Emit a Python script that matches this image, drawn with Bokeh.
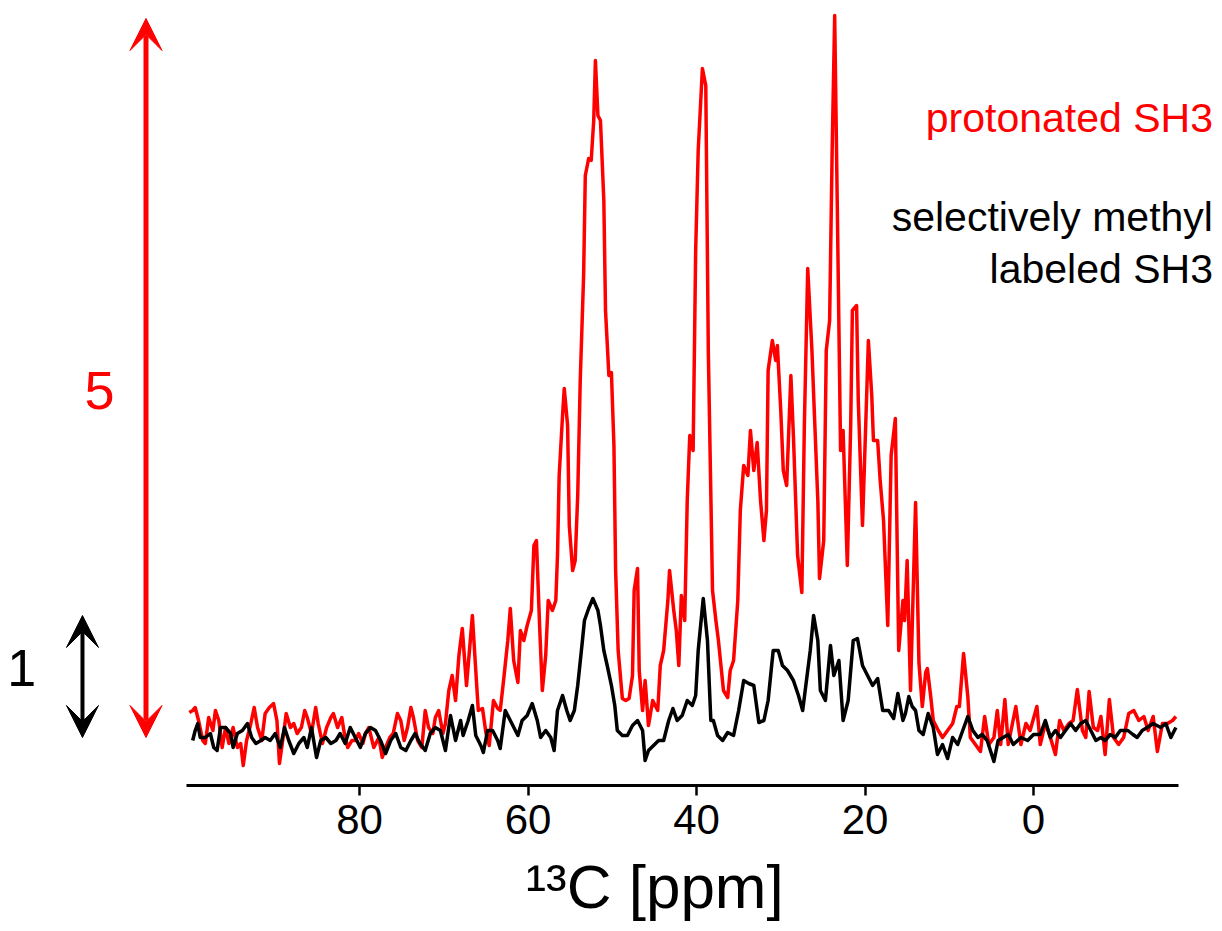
from bokeh.plotting import figure
from bokeh.models import Range1d, FixedTicker, Label, Arrow, VeeHead
from bokeh.embed import file_html
from bokeh.resources import INLINE

# 13C chemical shift (ppm) and relative intensity
red_ppm = [
    100.2, 99.8, 99.5, 99.1, 98.6, 98.3, 97.9, 97.4, 97.1, 96.7,
    96.3, 95.9, 95.5, 95.0, 94.5, 94.1, 93.8, 93.4, 92.9, 92.5,
    92.1, 91.6, 91.2, 90.7, 90.2, 89.8, 89.5, 89.0, 88.7, 88.2,
    87.8, 87.4, 86.9, 86.5, 86.2, 85.7, 85.2, 84.9, 84.4, 83.9,
    83.4, 83.1, 82.6, 82.1, 81.8, 81.4, 80.9, 80.5, 80.1, 79.6,
    79.3, 78.9, 78.3, 77.7, 77.3, 76.9, 76.4, 76.0, 75.5, 75.1,
    74.7, 74.3, 73.9, 73.6, 73.1, 72.6, 72.2, 71.8, 71.3, 71.0,
    70.6, 70.1, 69.8, 69.4, 69.0, 68.6, 68.2, 67.8, 67.3, 66.9,
    66.6, 66.2, 65.9, 65.4, 65.0, 64.6, 64.1, 63.6, 63.3, 62.9,
    62.4, 62.1, 61.7, 61.2, 60.9, 60.5, 60.1, 59.6, 59.3, 59.0,
    58.6, 58.3, 57.9, 57.6, 57.1, 56.7, 56.5, 56.3, 55.9, 55.7,
    55.3, 55.1, 54.7, 54.4, 54.1, 53.8, 53.4, 53.2, 52.8, 52.5,
    52.2, 52.0, 51.7, 51.4, 51.0, 50.8, 50.4, 50.1, 49.8, 49.6,
    49.3, 48.8, 48.4, 48.0, 47.6, 47.4, 47.0, 46.8, 46.4, 46.1,
    45.7, 45.2, 44.6, 44.3, 43.9, 43.4, 43.2, 42.7, 42.4, 42.1,
    41.8, 41.4, 41.1, 40.8, 40.4, 40.1, 39.8, 39.3, 38.9, 38.6,
    38.1, 37.7, 37.4, 36.8, 36.3, 36.0, 35.6, 35.1, 34.8, 34.4,
    33.9, 33.6, 33.2, 32.8, 32.4, 32.0, 31.7, 31.5, 31.0, 30.6,
    30.4, 30.0, 29.7, 29.3, 28.8, 28.5, 28.0, 27.5, 27.2, 26.8,
    26.3, 26.0, 25.6, 25.4, 24.9, 24.6, 24.2, 23.9, 23.6, 23.3,
    22.9, 22.6, 22.1, 21.7, 21.5, 21.0, 20.8, 20.3, 19.9, 19.6,
    19.2, 19.0, 18.5, 18.2, 17.8, 17.3, 16.9, 16.4, 16.0, 15.5,
    15.3, 15.0, 14.6, 14.0, 13.6, 13.2, 12.8, 12.6, 12.2, 11.9,
    11.3, 10.8, 10.2, 9.6, 9.1, 8.8, 8.3, 7.8, 7.5, 6.9,
    6.3, 5.8, 5.3, 4.7, 4.3, 3.9, 3.4, 3.0, 2.1, 1.5,
    0.9, 0.4, -0.4, -0.8, -1.4, -2.0, -2.6, -3.1, -3.6, -4.2,
    -4.7, -5.2, -5.8, -6.2, -6.6, -7.1, -7.6, -8.0, -8.5, -9.0,
    -9.5, -10.1, -10.7, -11.3, -11.9, -12.5, -13.1, -13.6, -14.2, -14.7,
    -15.3, -15.9, -16.5, -16.9,
]
red_int = [
    0.28, 0.30, 0.33, 0.20, 0.00, -0.03, 0.23, 0.10, 0.30, 0.20,
    -0.07, 0.13, -0.03, 0.13, -0.07, -0.03, -0.25, 0.00, 0.17, 0.33,
    0.13, 0.00, 0.27, 0.33, 0.37, 0.20, -0.23, 0.07, 0.27, 0.13,
    0.17, 0.07, 0.13, 0.30, 0.23, 0.07, 0.33, 0.17, -0.03, 0.13,
    0.23, 0.27, 0.13, 0.23, 0.07, -0.07, 0.00, 0.00, 0.07, -0.03,
    0.07, 0.13, -0.07, 0.03, -0.17, -0.07, 0.03, 0.07, 0.27, 0.20,
    0.00, 0.13, 0.33, 0.23, 0.00, -0.07, 0.30, 0.13, 0.07, 0.23,
    0.30, 0.07, 0.17, 0.50, 0.65, 0.40, 0.85, 1.12, 0.55, 0.95,
    1.25, 0.70, 0.30, 0.32, 0.08, -0.05, 0.40, 0.32, 0.30, 0.60,
    1.00, 1.32, 0.80, 0.58, 1.10, 1.00, 1.15, 1.30, 1.95, 2.00,
    1.10, 0.50, 0.85, 1.40, 1.30, 1.40, 1.85, 2.65, 3.25, 3.52,
    3.15, 2.15, 1.70, 1.80, 2.45, 3.60, 4.65, 5.65, 5.82, 5.80,
    6.20, 6.80, 6.25, 6.20, 5.40, 4.30, 3.65, 3.68, 2.95, 1.70,
    0.90, 0.42, 0.40, 0.42, 0.65, 1.50, 1.72, 0.70, 0.30, 0.60,
    0.15, 0.40, 0.30, 0.75, 0.90, 1.40, 1.70, 1.30, 1.10, 0.75,
    1.45, 1.20, 2.40, 3.05, 2.90, 4.90, 5.90, 6.72, 6.55, 3.90,
    1.50, 1.20, 1.00, 0.50, 0.43, 0.70, 0.80, 1.40, 2.30, 2.75,
    2.65, 3.10, 2.70, 2.98, 2.40, 2.00, 2.30, 3.70, 4.00, 3.80,
    3.95, 3.30, 2.70, 2.55, 3.65, 3.05, 1.85, 1.48, 3.15, 4.72,
    3.90, 3.25, 2.40, 1.62, 2.00, 3.90, 4.20, 5.90, 7.25, 5.40,
    2.90, 3.10, 1.75, 3.15, 4.30, 4.35, 3.40, 2.15, 3.20, 4.00,
    3.45, 3.00, 3.00, 2.60, 2.20, 1.15, 2.85, 3.22, 0.90, 1.40,
    1.20, 1.80, 0.50, 2.38, 0.78, 0.34, 0.68, 0.72, 0.44, 0.20,
    0.10, 0.03, 0.10, 0.17, 0.34, 0.34, 0.87, 0.44, 0.03, -0.04,
    -0.11, 0.24, -0.04, 0.03, 0.30, -0.04, 0.41, -0.04, 0.34, -0.04,
    0.17, 0.10, 0.34, -0.04, 0.17, 0.03, -0.14, 0.20, 0.10, 0.17,
    0.20, 0.51, 0.10, 0.03, 0.49, 0.13, 0.10, 0.24, -0.14, 0.41,
    0.03, -0.04, 0.03, 0.27, 0.30, 0.20, 0.24, 0.10, 0.24, -0.11,
    0.17, 0.17, 0.20, 0.24,
]

black_ppm = [
    99.8, 99.5, 99.2, 98.9, 98.3, 97.7, 97.3, 96.9, 96.5, 95.9,
    95.3, 95.0, 94.5, 93.9, 93.3, 92.8, 92.3, 91.7, 91.2, 90.6,
    90.0, 89.4, 88.9, 88.4, 87.8, 87.2, 86.6, 86.2, 85.7, 85.1,
    84.6, 84.0, 83.4, 82.8, 82.3, 81.7, 81.1, 80.5, 79.9, 79.3,
    78.7, 78.1, 77.5, 76.9, 76.3, 75.7, 75.1, 74.5, 73.9, 73.4,
    72.8, 72.2, 71.6, 71.0, 70.4, 69.8, 69.2, 68.6, 68.0, 67.7,
    67.1, 66.6, 66.2, 65.6, 65.3, 64.8, 64.2, 63.6, 63.3, 62.7,
    62.1, 61.2, 60.7, 60.1, 59.5, 58.9, 58.5, 57.9, 57.3, 56.9,
    56.5, 55.9, 55.4, 55.0, 54.5, 54.1, 53.6, 53.3, 52.8, 52.3,
    51.7, 51.4, 51.0, 50.6, 50.1, 49.7, 49.4, 48.8, 48.2, 47.6,
    47.0, 46.4, 46.1, 45.7, 45.1, 44.5, 43.9, 43.3, 42.8, 42.3,
    41.7, 41.1, 40.5, 40.1, 39.8, 39.2, 38.7, 38.3, 38.0, 37.5,
    36.9, 36.3, 35.6, 35.0, 34.4, 33.8, 33.2, 32.6, 32.0, 31.5,
    30.9, 30.3, 29.8, 29.2, 28.5, 27.9, 27.4, 27.1, 26.5, 26.1,
    25.6, 25.3, 24.7, 24.1, 23.7, 23.1, 22.6, 22.0, 21.4, 20.9,
    20.3, 19.7, 19.1, 18.5, 17.9, 17.2, 16.6, 16.1, 15.5, 15.2,
    14.8, 14.4, 14.0, 13.6, 13.1, 12.5, 11.9, 11.4, 10.8, 10.2,
    9.6, 9.0, 8.4, 7.8, 7.2, 6.6, 6.1, 5.5, 4.7, 4.2,
    3.6, 3.0, 2.4, 1.5, 0.7, 0.0, -0.8, -1.4, -2.0, -2.6,
    -3.2, -3.8, -4.4, -5.0, -5.6, -6.2, -6.8, -7.4, -8.0, -8.5,
    -9.1, -9.7, -10.3, -11.2, -11.8, -12.3, -12.9, -13.5, -14.2, -15.1,
    -15.7, -16.3, -16.9,
]
black_int = [
    0.00, 0.10, 0.17, 0.03, 0.03, 0.07, -0.07, -0.10, 0.13, 0.13,
    0.07, -0.07, 0.07, 0.10, 0.17, 0.03, -0.03, 0.00, 0.03, 0.00,
    0.07, -0.07, 0.13, 0.00, -0.13, -0.03, 0.03, -0.07, 0.13, -0.17,
    0.00, 0.03, -0.03, 0.00, 0.07, -0.03, 0.13, 0.03, -0.07, 0.07,
    0.13, 0.10, 0.00, -0.13, 0.00, 0.07, -0.07, -0.10, 0.00, 0.07,
    -0.03, -0.10, 0.07, 0.13, 0.10, -0.10, 0.25, 0.00, 0.20, 0.05,
    0.20, 0.35, 0.05, -0.05, -0.12, 0.10, 0.10, 0.00, -0.08, 0.30,
    0.20, 0.05, 0.20, 0.25, 0.37, 0.20, 0.03, 0.10, 0.03, -0.10,
    0.30, 0.45, 0.30, 0.20, 0.30, 0.55, 0.95, 1.20, 1.32, 1.42,
    1.30, 1.15, 0.90, 0.75, 0.55, 0.35, 0.10, 0.05, 0.05, 0.15,
    0.20, 0.10, -0.20, -0.10, -0.05, 0.00, 0.00, 0.20, 0.32, 0.20,
    0.25, 0.40, 0.35, 0.45, 0.90, 1.42, 1.00, 0.20, 0.20, 0.05,
    0.00, 0.08, 0.05, 0.30, 0.60, 0.57, 0.55, 0.18, 0.20, 0.40,
    0.90, 0.90, 0.75, 0.70, 0.60, 0.45, 0.30, 0.50, 0.90, 1.25,
    1.00, 0.50, 0.40, 0.95, 0.65, 0.80, 0.20, 0.40, 1.00, 1.02,
    0.75, 0.65, 0.55, 0.62, 0.30, 0.30, 0.22, 0.47, 0.20, 0.27,
    0.44, 0.34, 0.30, 0.10, 0.06, 0.27, 0.13, -0.14, -0.04, -0.18,
    0.03, -0.04, 0.10, 0.24, 0.10, 0.03, 0.06, 0.00, -0.21, 0.00,
    0.03, 0.06, -0.04, 0.03, 0.00, 0.06, 0.06, 0.20, 0.03, 0.10,
    0.03, 0.10, 0.17, 0.10, 0.17, 0.20, 0.10, 0.00, 0.03, 0.00,
    0.06, 0.03, 0.10, 0.10, 0.06, 0.03, 0.10, 0.13, 0.17, 0.13,
    0.17, 0.03, 0.13,
]

tick_values = [80, 60, 40, 20, 0]
x_title = "\u00b9\u00b3C [ppm]"
red_label = "protonated SH3"
black_label = ["selectively methyl", "labeled SH3"]
red_scale = "5"
black_scale = "1"

RED = "#ff0000"
BLACK = "#000000"
FONT = "Liberation Sans"

p = figure(width=1222, height=931,
           x_range=Range1d(122.61, -22.43), y_range=Range1d(-0.45, 7.40),
           output_backend="svg", toolbar_location=None,
           y_axis_location=None,
           min_border_left=0, min_border_right=0, min_border_top=0,
           min_border_bottom=146)
p.outline_line_color = None
p.xgrid.visible = False
p.ygrid.visible = False
p.background_fill_color = "white"

ax = p.xaxis[0]
ax.ticker = FixedTicker(ticks=tick_values)
ax.bounds = (-17.2, 100.5)
ax.axis_line_width = 3
ax.axis_line_color = BLACK
ax.major_tick_line_width = 2.5
ax.major_tick_out = 10
ax.major_tick_in = 0
ax.minor_tick_out = 0
ax.minor_tick_in = 0
ax.major_label_text_font = FONT
ax.major_label_text_font_size = "42px"
ax.major_label_text_color = BLACK
ax.major_label_standoff = 9
# leading no-break spaces shift the centred title towards the axis middle
ax.axis_label = "\u00a0" * 5 + x_title
ax.axis_label_text_font = FONT
ax.axis_label_text_font_size = "62px"
ax.axis_label_text_font_style = "normal"
ax.axis_label_text_color = BLACK
ax.axis_label_standoff = 15

p.line(red_ppm, red_int, line_color=RED, line_width=3.5, line_join="round")
p.line(black_ppm, black_int, line_color=BLACK, line_width=3.5, line_join="round")

# scale arrows
p.add_layout(Arrow(x_start=105.34, y_start=0.03, x_end=105.34, y_end=7.22,
                   line_color=RED, line_width=5,
                   start=VeeHead(size=32, fill_color=RED, line_color=RED, line_width=1),
                   end=VeeHead(size=32, fill_color=RED, line_color=RED, line_width=1)))
p.add_layout(Arrow(x_start=112.88, y_start=0.03, x_end=112.88, y_end=1.25,
                   line_color=BLACK, line_width=4,
                   start=VeeHead(size=32, fill_color=BLACK, line_color=BLACK, line_width=1),
                   end=VeeHead(size=32, fill_color=BLACK, line_color=BLACK, line_width=1)))
p.add_layout(Label(x=110.86, y=3.50, text=red_scale, text_align="center",
                   text_baseline="alphabetic", text_font=FONT,
                   text_font_size="54px", text_color=RED))
p.add_layout(Label(x=120.1, y=0.73, text=black_scale, text_align="center",
                   text_baseline="alphabetic", text_font=FONT,
                   text_font_size="52px", text_color=BLACK))

# legend texts
p.add_layout(Label(x=-21.3, y=6.23, text=red_label, text_align="right",
                   text_baseline="alphabetic", text_font=FONT,
                   text_font_size="41px", text_color=RED))
for txt, yy in zip(black_label, [5.24, 4.72]):
    p.add_layout(Label(x=-21.3, y=yy, text=txt, text_align="right",
                       text_baseline="alphabetic", text_font=FONT,
                       text_font_size="41px", text_color=BLACK))

open("out.html", "w").write(file_html(p, INLINE))
